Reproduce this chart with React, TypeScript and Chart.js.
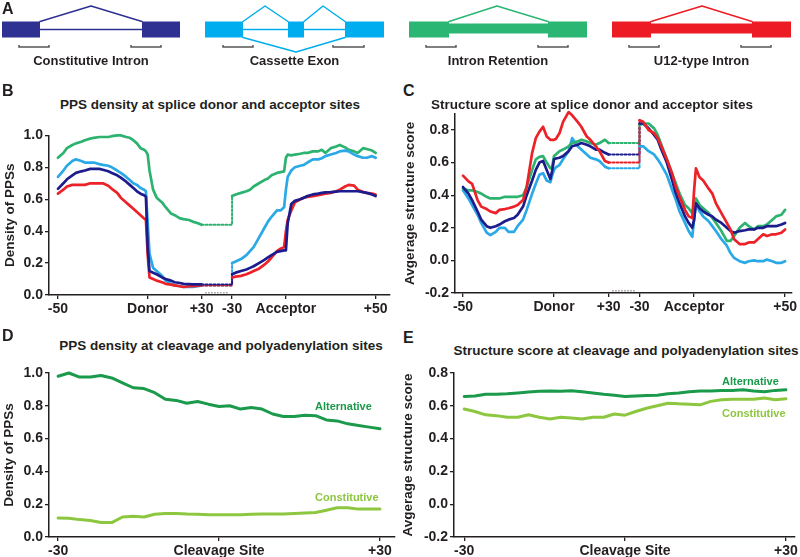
import React, { useEffect, useRef } from "react";
import { Chart, registerables } from "chart.js";
Chart.register(...registerables);

const FONT = "'Liberation Sans', Arial, Helvetica, sans-serif";
const INK = "#231f20";
const NAVY = "#1c1c8c";
const LBLUE = "#2aa9e6";
const GREEN = "#2db36f";
const RED = "#ec2228";
const ALT_GREEN = "#1b9a4b";
const CON_GREEN = "#8dc63f";

// ---------------- Panel A (gene models) ----------------
const geneColors = ["#2e3192", "#00aeef", "#2bb673", "#ed1c24"];
const geneLabels = ["Constitutive Intron", "Cassette Exon", "Intron Retention", "U12-type Intron"];
const geneExons = [
  [[2, 40], [142, 180]],
  [[205, 243], [288, 304], [345, 384]],
  [[409, 449], [548, 587]],
  [[612, 651], [752, 791]],
];
const geneIntronLines = [[[40, 142]], [[243, 288], [304, 345]], [], []];
const geneRetained = [[], [], [[449, 548]], [[651, 752]]];
const geneArcs = [
  [[40, 91, 142]],
  [[243, 265, 288], [304, 323, 345]],
  [[449, 497, 548]],
  [[651, 702, 752]],
];
const geneSkipArcs = [[], [[243, 296, 345]], [], []];
const geneBrackets = [
  [[19, 49], [131, 161]],
  [[223, 253], [333, 364]],
  [[426, 456], [538, 568]],
  [[629, 659], [741, 771]],
];

// ---------------- Panels B & C (splice sites) ----------------
const spliceLeftX = [-50, -47, -45, -42, -40, -37, -35, -32, -30, -27, -25, -22, -20, -17, -15, -12, -10, -8, -6, -4, -2, -1, 0, 1, 3, 5, 8, 10, 13, 15, 18, 20, 23, 25, 28, 30];
const spliceRightX = [-30, -28, -25, -22, -20, -18, -15, -12, -10, -8, -5, -3, -1, 0, 1, 3, 5, 8, 10, 12, 15, 18, 20, 22, 25, 28, 30, 33, 35, 38, 40, 43, 45, 48, 50];
const spliceTickLabels = ["-50", "Donor", "+30", "-30", "Acceptor", "+50"];
const spliceTickSide = ["L", "L", "L", "R", "R", "R"];
const spliceTickPos = [-50, 0, 30, -30, 0, 50];

// B: PPS density
const bGreenL = [0.86, 0.89, 0.92, 0.94, 0.95, 0.96, 0.97, 0.98, 0.985, 0.99, 0.99, 0.99, 0.995, 1.0, 1.0, 0.99, 0.985, 0.97, 0.95, 0.92, 0.91, 0.9, 0.88, 0.78, 0.66, 0.61, 0.58, 0.55, 0.51, 0.5, 0.48, 0.475, 0.47, 0.46, 0.45, 0.44];
const bBlueL = [0.74, 0.78, 0.81, 0.84, 0.85, 0.84, 0.83, 0.83, 0.83, 0.82, 0.815, 0.81, 0.8, 0.78, 0.765, 0.74, 0.72, 0.7, 0.69, 0.67, 0.66, 0.65, 0.45, 0.26, 0.17, 0.15, 0.12, 0.09, 0.07, 0.06, 0.055, 0.05, 0.05, 0.05, 0.055, 0.06];
const bNavyL = [0.665, 0.7, 0.725, 0.75, 0.765, 0.775, 0.78, 0.79, 0.79, 0.79, 0.785, 0.775, 0.765, 0.75, 0.735, 0.71, 0.69, 0.67, 0.65, 0.635, 0.625, 0.615, 0.3, 0.15, 0.14, 0.13, 0.11, 0.1, 0.09, 0.08, 0.075, 0.07, 0.068, 0.067, 0.066, 0.066];
const bRedL = [0.635, 0.66, 0.68, 0.69, 0.69, 0.69, 0.69, 0.7, 0.7, 0.7, 0.7, 0.685, 0.665, 0.64, 0.61, 0.58, 0.56, 0.54, 0.52, 0.5, 0.48, 0.47, 0.25, 0.11, 0.1, 0.09, 0.08, 0.07, 0.065, 0.06, 0.055, 0.05, 0.055, 0.055, 0.058, 0.06];
const bGreenR = [0.62, 0.63, 0.64, 0.65, 0.66, 0.68, 0.7, 0.72, 0.73, 0.75, 0.765, 0.77, 0.775, 0.86, 0.88, 0.875, 0.88, 0.885, 0.89, 0.89, 0.9, 0.9, 0.91, 0.89, 0.92, 0.93, 0.94, 0.925, 0.91, 0.9, 0.89, 0.92, 0.915, 0.905, 0.89];
const bBlueR = [0.2, 0.21, 0.225, 0.25, 0.275, 0.3, 0.36, 0.42, 0.46, 0.49, 0.53, 0.53, 0.55, 0.66, 0.74, 0.78, 0.8, 0.81, 0.815, 0.83, 0.85, 0.85, 0.857, 0.87, 0.88, 0.89, 0.9, 0.905, 0.9, 0.88, 0.87, 0.86, 0.86, 0.87, 0.86];
const bNavyR = [0.13, 0.14, 0.15, 0.16, 0.17, 0.18, 0.2, 0.22, 0.235, 0.25, 0.27, 0.275, 0.28, 0.28, 0.45, 0.57, 0.59, 0.6, 0.61, 0.62, 0.63, 0.635, 0.64, 0.643, 0.645, 0.648, 0.65, 0.65, 0.65, 0.65, 0.65, 0.645, 0.64, 0.63, 0.62];
const bRedR = [0.11, 0.115, 0.12, 0.13, 0.14, 0.15, 0.165, 0.19, 0.21, 0.235, 0.275, 0.29, 0.3, 0.4, 0.47, 0.53, 0.58, 0.6, 0.61, 0.615, 0.62, 0.625, 0.63, 0.635, 0.64, 0.65, 0.66, 0.68, 0.69, 0.685, 0.66, 0.645, 0.64, 0.635, 0.63];

// C: structure score
const cRedL = [0.52, 0.485, 0.47, 0.37, 0.33, 0.315, 0.3, 0.29, 0.31, 0.315, 0.32, 0.33, 0.34, 0.37, 0.45, 0.66, 0.75, 0.79, 0.82, 0.76, 0.74, 0.74, 0.74, 0.745, 0.78, 0.85, 0.91, 0.89, 0.85, 0.82, 0.76, 0.74, 0.7, 0.67, 0.61, 0.6];
const cGreenL = [0.44, 0.43, 0.43, 0.42, 0.41, 0.39, 0.38, 0.38, 0.38, 0.39, 0.39, 0.39, 0.39, 0.4, 0.45, 0.555, 0.62, 0.635, 0.64, 0.6, 0.565, 0.575, 0.64, 0.65, 0.67, 0.68, 0.7, 0.72, 0.73, 0.74, 0.73, 0.72, 0.71, 0.72, 0.74, 0.72];
const cNavyL = [0.45, 0.41, 0.37, 0.3, 0.25, 0.21, 0.2, 0.21, 0.22, 0.24, 0.25, 0.26, 0.28, 0.33, 0.4, 0.49, 0.555, 0.6, 0.61, 0.555, 0.5, 0.55, 0.62, 0.625, 0.63, 0.64, 0.67, 0.7, 0.71, 0.72, 0.71, 0.7, 0.68, 0.68, 0.66, 0.65];
const cBlueL = [0.43, 0.38, 0.34, 0.28, 0.23, 0.17, 0.155, 0.175, 0.2, 0.2, 0.175, 0.175, 0.21, 0.25, 0.31, 0.41, 0.47, 0.525, 0.535, 0.49, 0.48, 0.52, 0.555, 0.57, 0.585, 0.62, 0.67, 0.75, 0.7, 0.68, 0.65, 0.63, 0.62, 0.61, 0.575, 0.565];
const cRedR = [0.86, 0.85, 0.8, 0.78, 0.75, 0.7, 0.62, 0.53, 0.45, 0.39, 0.31, 0.27, 0.26, 0.43, 0.565, 0.51, 0.49, 0.44, 0.41, 0.35, 0.29, 0.23, 0.19, 0.13, 0.1, 0.1, 0.11, 0.11, 0.13, 0.16, 0.15, 0.16, 0.16, 0.17, 0.19];
const cGreenR = [0.83, 0.84, 0.84, 0.81, 0.77, 0.71, 0.62, 0.53, 0.47, 0.41, 0.34, 0.32, 0.29, 0.34, 0.38, 0.34, 0.32, 0.29, 0.26, 0.23, 0.18, 0.12, 0.12, 0.15, 0.2, 0.23, 0.21, 0.19, 0.21, 0.21, 0.22, 0.25, 0.27, 0.28, 0.31];
const cNavyR = [0.84, 0.84, 0.81, 0.77, 0.74, 0.68, 0.6, 0.49, 0.41, 0.35, 0.27, 0.23, 0.2, 0.25, 0.35, 0.32, 0.3, 0.28, 0.27, 0.25, 0.23, 0.2, 0.18, 0.17, 0.18, 0.185, 0.19, 0.19, 0.2, 0.2, 0.21, 0.21, 0.21, 0.22, 0.23];
const cBlueR = [0.7, 0.7, 0.67, 0.65, 0.62, 0.585, 0.525, 0.43, 0.37, 0.3, 0.23, 0.18, 0.145, 0.25, 0.35, 0.3, 0.27, 0.24, 0.21, 0.18, 0.13, 0.09, 0.045, 0.015, -0.005, -0.015, -0.005, 0.0, -0.005, -0.005, 0.005, -0.005, -0.015, -0.015, -0.005];

// ---------------- Panels D & E (cleavage sites) ----------------
const cleavageX = [-30, -28, -26, -24, -22, -20, -18, -16, -14, -12, -10, -8, -6, -4, -2, 0, 2, 4, 6, 8, 10, 12, 14, 16, 18, 20, 22, 24, 26, 28, 30];
const cleavageTicks = [-30, 0, 30];
const cleavageTickLabels = ["-30", "Cleavage Site", "+30"];
const dAlternative = [0.98, 1.0, 0.975, 0.975, 0.985, 0.97, 0.94, 0.91, 0.905, 0.88, 0.84, 0.833, 0.816, 0.826, 0.81, 0.796, 0.8, 0.78, 0.79, 0.78, 0.75, 0.735, 0.735, 0.743, 0.74, 0.714, 0.708, 0.69, 0.68, 0.67, 0.66];
const dConstitutive = [0.116, 0.114, 0.106, 0.1, 0.088, 0.088, 0.122, 0.126, 0.122, 0.139, 0.143, 0.143, 0.14, 0.139, 0.135, 0.135, 0.135, 0.135, 0.139, 0.14, 0.14, 0.14, 0.143, 0.147, 0.149, 0.163, 0.178, 0.178, 0.17, 0.17, 0.17];
const eAlternative = [0.657, 0.66, 0.67, 0.67, 0.673, 0.678, 0.684, 0.688, 0.69, 0.688, 0.692, 0.686, 0.678, 0.67, 0.665, 0.657, 0.66, 0.663, 0.665, 0.673, 0.678, 0.686, 0.69, 0.69, 0.694, 0.694, 0.698, 0.69, 0.686, 0.694, 0.698];
const eConstitutive = [0.58, 0.565, 0.545, 0.54, 0.53, 0.53, 0.545, 0.53, 0.52, 0.53, 0.525, 0.52, 0.53, 0.53, 0.55, 0.543, 0.565, 0.585, 0.6, 0.616, 0.612, 0.61, 0.606, 0.627, 0.637, 0.64, 0.64, 0.64, 0.647, 0.637, 0.643];

const yTicksB = [0, 0.2, 0.4, 0.6, 0.8, 1.0];
const yTicksC = [-0.2, 0, 0.2, 0.4, 0.6, 0.8];

// ---------------- helpers ----------------
const L_OFF = 50;
const R_OFF = 127;
const spliceTickIdx = spliceTickPos.map((p, i) => p + (spliceTickSide[i] === "L" ? L_OFF : R_OFF));
const toLeft = (v: number[]) => spliceLeftX.map((t, i) => ({ x: t + L_OFF, y: v[i] }));
const toRight = (v: number[]) => spliceRightX.map((t, i) => ({ x: t + R_OFF, y: v[i] }));
const bridge = (l: number[], r: number[]) => {
  const xl = spliceLeftX[spliceLeftX.length - 1] + L_OFF;
  const xr = spliceRightX[0] + R_OFF;
  const yl = l[l.length - 1];
  return [{ x: xl, y: yl }, { x: xr, y: yl }, { x: xr, y: r[0] }];
};

function spliceDatasets(series: { color: string; l: number[]; r: number[] }[], axisY: number) {
  const out: any[] = [];
  series.forEach((s) => {
    out.push({ data: toLeft(s.l), borderColor: s.color, borderWidth: 2.7, clip: 8 });
    out.push({ data: toRight(s.r), borderColor: s.color, borderWidth: 2.7, clip: 8 });
  });
  series.forEach((s) => {
    out.push({ data: bridge(s.l, s.r), borderColor: s.color, borderWidth: 2, borderDash: [2, 2], clip: 8 });
  });
  // axis break marker between the two windows
  const xl = spliceLeftX[spliceLeftX.length - 1] + L_OFF + 2;
  const xr = spliceRightX[0] + R_OFF - 2;
  out.push({ data: [{ x: xl, y: axisY }, { x: xr, y: axisY }], borderColor: "#9a9a9a", borderWidth: 1.5, borderDash: [1.5, 1.5], borderCapStyle: "butt", clip: 8 });
  return out;
}

const tickFont = { family: FONT, size: 14, weight: "bold" as const };
const gridOpts = { display: true, drawOnChartArea: false, drawTicks: true, tickLength: 4, color: INK, lineWidth: 1.3 };
const borderOpts = { display: true, color: INK, width: 1.5 };

function yAxis(min: number, max: number, ticks: number[], width: number, title: string, titlePad: number) {
  return {
    type: "linear",
    min,
    max,
    afterFit: (s: any) => { s.width = width; },
    afterBuildTicks: (s: any) => { s.ticks = ticks.map((v) => ({ value: v })); },
    ticks: { color: INK, font: tickFont, padding: 2, autoSkip: false, callback: (v: any) => Number(v).toFixed(1) },
    grid: gridOpts,
    border: borderOpts,
    title: { display: true, text: title, color: INK, font: { family: FONT, size: 13.5, weight: "bold" }, padding: { top: titlePad, bottom: 0 } },
  };
}

function xAxis(min: number, max: number, ticks: number[], labels: string[], height: number) {
  return {
    type: "linear",
    min,
    max,
    afterFit: (s: any) => { s.height = height; },
    afterBuildTicks: (s: any) => { s.ticks = ticks.map((v) => ({ value: v })); },
    ticks: { color: INK, font: tickFont, padding: 2, autoSkip: false, maxRotation: 0, callback: (_v: any, i: number) => labels[i] },
    grid: gridOpts,
    border: borderOpts,
  };
}

function baseOptions(padding: any, scales: any) {
  return {
    animation: false,
    responsive: false,
    devicePixelRatio: 1,
    layout: { padding },
    plugins: { legend: { display: false }, tooltip: { enabled: false } },
    elements: { point: { radius: 0 }, line: { tension: 0, borderJoinStyle: "round", borderCapStyle: "round" } },
    scales,
  };
}

function geneConfig() {
  const ds: any[] = [];
  const EXON_Y = 29.5;
  geneColors.forEach((c, g) => {
    geneExons[g].forEach(([a, b]) => ds.push({ data: [{ x: a, y: EXON_Y }, { x: b, y: EXON_Y }], borderColor: c, borderWidth: 16, borderCapStyle: "butt" }));
    geneRetained[g].forEach(([a, b]) => ds.push({ data: [{ x: a, y: 28.5 }, { x: b, y: 28.5 }], borderColor: c, borderWidth: 10, borderCapStyle: "butt" }));
    geneIntronLines[g].forEach(([a, b]) => ds.push({ data: [{ x: a, y: EXON_Y }, { x: b, y: EXON_Y }], borderColor: c, borderWidth: 1.5 }));
    geneArcs[g].forEach(([a, m, b]) => ds.push({ data: [{ x: a, y: 21.5 }, { x: m, y: 6 }, { x: b, y: 21.5 }], borderColor: c, borderWidth: 1.5 }));
    geneSkipArcs[g].forEach(([a, m, b]) => ds.push({ data: [{ x: a, y: 37.5 }, { x: m, y: 52 }, { x: b, y: 37.5 }], borderColor: c, borderWidth: 1.5 }));
    geneBrackets[g].forEach(([a, b]) => ds.push({ data: [{ x: a, y: 45 }, { x: a, y: 47 }, { x: b, y: 47 }, { x: b, y: 45 }], borderColor: "#555555", borderWidth: 1.5, borderJoinStyle: "miter", borderCapStyle: "butt" }));
  });
  const labelPlugin = {
    id: "geneLabels",
    afterDraw(chart: any) {
      const { ctx, scales } = chart;
      ctx.save();
      ctx.fillStyle = INK;
      ctx.font = `bold 13px ${FONT}`;
      ctx.textAlign = "center";
      ctx.textBaseline = "middle";
      geneLabels.forEach((t, g) => {
        const ex = geneExons[g];
        const cx = (ex[0][0] + ex[ex.length - 1][1]) / 2;
        ctx.fillText(t, scales.x.getPixelForValue(cx), scales.y.getPixelForValue(61));
      });
      ctx.restore();
    },
  };
  return {
    type: "line",
    data: { datasets: ds },
    options: baseOptions(0, {
      x: { type: "linear", min: 0, max: 800, display: false },
      y: { type: "linear", min: 0, max: 70, reverse: true, display: false },
    }),
    plugins: [labelPlugin],
  };
}

function panelB() {
  return {
    type: "line",
    data: { datasets: spliceDatasets([
      { color: NAVY, l: bNavyL, r: bNavyR },
      { color: RED, l: bRedL, r: bRedR },
      { color: LBLUE, l: bBlueL, r: bBlueR },
      { color: GREEN, l: bGreenL, r: bGreenR },
    ], 0.014) },
    options: baseOptions({ top: 7, right: 10, left: 0, bottom: 0 }, {
      x: xAxis(-5, 185, spliceTickIdx, spliceTickLabels, 25),
      y: yAxis(0, 1.0, yTicksB, 49, "Density of PPSs", 2),
    }),
  };
}

function panelC() {
  return {
    type: "line",
    data: { datasets: spliceDatasets([
      { color: RED, l: cRedL, r: cRedR },
      { color: NAVY, l: cNavyL, r: cNavyR },
      { color: GREEN, l: cGreenL, r: cGreenR },
      { color: LBLUE, l: cBlueL, r: cBlueR },
    ], -0.186) },
    options: baseOptions({ top: 13.7, right: 8, left: 0, bottom: 0 }, {
      x: xAxis(-4.4, 180.8, spliceTickIdx, spliceTickLabels, 25),
      y: yAxis(-0.2, 0.9, yTicksC, 55, "Avgerage structure score", 2),
    }),
  };
}

function cleavageChart(alt: number[], con: number[], ymin: number, ymax: number, yt: number[], yw: number, title: string, tpad: number, xmin: number, xmax: number) {
  return {
    type: "line",
    data: {
      datasets: [
        { data: cleavageX.map((x, i) => ({ x, y: alt[i] })), borderColor: ALT_GREEN, borderWidth: 3, clip: 8 },
        { data: cleavageX.map((x, i) => ({ x, y: con[i] })), borderColor: CON_GREEN, borderWidth: 3, clip: 8 },
      ],
    },
    options: baseOptions({ top: 13, right: 5, left: 0, bottom: 0 }, {
      x: xAxis(xmin, xmax, cleavageTicks, cleavageTickLabels, 20),
      y: yAxis(ymin, ymax, yt, yw, title, tpad),
    }),
  };
}

function ChartBox({ left, top, width, height, make }: { left: number; top: number; width: number; height: number; make: () => any }) {
  const ref = useRef<HTMLCanvasElement>(null);
  useEffect(() => {
    const chart = new Chart(ref.current as HTMLCanvasElement, make());
    return () => chart.destroy();
  }, []);
  return (
    <div style={{ position: "absolute", left, top, width, height }}>
      <canvas ref={ref} width={width} height={height} style={{ display: "block" }} />
    </div>
  );
}

function Text({ x, y, text, size, color = INK, align = "center" }: { x: number; y: number; text: string; size: number; color?: string; align?: string }) {
  return (
    <div
      style={{
        position: "absolute",
        left: x,
        top: y,
        transform: align === "center" ? "translate(-50%,-50%)" : "translate(0,-50%)",
        fontFamily: FONT,
        fontWeight: 700,
        fontSize: size,
        lineHeight: 1,
        color,
        whiteSpace: "nowrap",
      }}
    >
      {text}
    </div>
  );
}

export default function App() {
  return (
    <div style={{ position: "absolute", left: 0, top: 0, width: 800, height: 557, overflow: "hidden", background: "#ffffff" }}>
      <ChartBox left={0} top={0} width={800} height={70} make={geneConfig} />
      <ChartBox left={0} top={125} width={400} height={195} make={panelB} />
      <ChartBox left={400} top={100} width={400} height={218} make={panelC} />
      <ChartBox left={0} top={360} width={400} height={197} make={() => cleavageChart(dAlternative, dConstitutive, 0, 1.0, yTicksB, 49, "Density of PPSs", 1, -31.7, 32.8)} />
      <ChartBox left={400} top={360} width={400} height={197} make={() => cleavageChart(eAlternative, eConstitutive, -0.2, 0.8, yTicksC, 54, "Avgerage structure score", 0, -31.9, 31.7)} />

      <Text x={2} y={9} text="A" size={16} align="left" />
      <Text x={2} y={91} text="B" size={16} align="left" />
      <Text x={403} y={91} text="C" size={16} align="left" />
      <Text x={2} y={336} text="D" size={16} align="left" />
      <Text x={403} y={338} text="E" size={16} align="left" />

      <Text x={210} y={105} text="PPS density at splice donor and acceptor sites" size={13.5} />
      <Text x={592} y={105} text="Structure score at splice donor and acceptor sites" size={13.5} />
      <Text x={221} y={346} text="PPS density at cleavage and polyadenylation sites" size={13.5} />
      <Text x={626} y={351} text="Structure score at cleavage and polyadenylation sites" size={13.5} />

      <Text x={315} y={406} text="Alternative" size={11} color={ALT_GREEN} align="left" />
      <Text x={315} y={497} text="Constitutive" size={11} color={CON_GREEN} align="left" />
      <Text x={722} y={381} text="Alternative" size={11} color={ALT_GREEN} align="left" />
      <Text x={722} y={413} text="Constitutive" size={11} color={CON_GREEN} align="left" />
    </div>
  );
}
